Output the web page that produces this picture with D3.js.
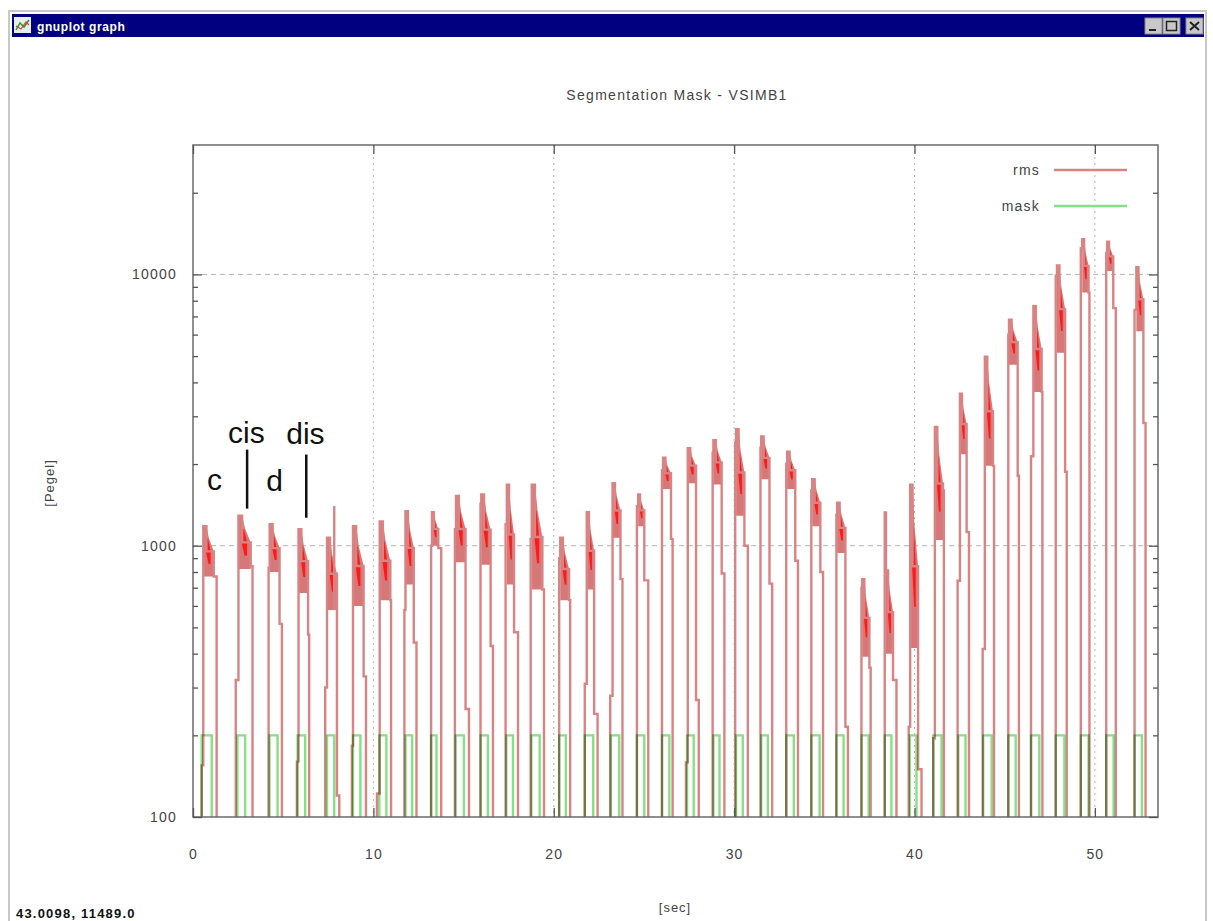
<!DOCTYPE html>
<html>
<head>
<meta charset="utf-8">
<script src="https://cdn.jsdelivr.net/npm/d3@7"></script>
<style>
  html, body { margin: 0; padding: 0; background: #fff; }
  svg { display: block; font-family: "Liberation Sans", Arial, sans-serif; }
</style>
</head>
<body>
<div id="chart"></div>
<script>
// one entry per note, times in [sec], levels in [Pegel]
const onsetT   = [0.48, 2.37, 4.19, 5.76, 7.33, 8.81, 10.20, 11.72, 13.20, 14.52, 15.94, 17.33, 18.72, 20.30, 21.72, 23.13, 24.61, 26.00, 27.33, 28.81, 30.06, 31.46, 32.89, 34.28, 35.67, 37.06, 38.35, 39.68, 41.04, 42.39, 43.78, 45.20, 46.46, 47.83, 49.22, 50.63, 52.20];
const preLevel = [155, 320, 830, 160, 300, 183, 122, 580, 1000, 1150, 1430, 1200, 1060, 900, 310, 280, 1400, 1900, 159, 2200, 2400, 2300, 2000, 1600, 1300, 700, 1325, 215, 195, 743, 416, 6000, 2138, 9900, 12500, 12000, 7400];
const riseT    = [0.57, 2.52, 4.25, 5.85, 7.43, 8.87, 10.35, 11.78, 13.25, 14.58, 15.98, 17.40, 18.78, 20.36, 21.83, 23.26, 24.68, 26.06, 27.43, 28.85, 30.11, 31.50, 32.94, 34.33, 35.71, 37.10, 38.42, 39.76, 41.13, 42.52, 43.90, 45.24, 46.59, 47.90, 49.30, 50.68, 52.30];
const peakLevel= [1180, 1290, 1200, 1150, 1070, 1180, 1230, 1340, 1330, 1525, 1545, 1680, 1680, 1070, 1330, 1700, 1545, 2110, 2290, 2450, 2690, 2530, 2220, 1757, 1440, 753, 810, 1680, 2740, 3630, 4970, 6810, 7640, 10800, 13500, 13200, 10640];
const lowLevel = [770, 820, 800, 670, 580, 600, 630, 720, 1000, 870, 850, 720, 690, 630, 690, 1070, 1180, 1620, 1700, 1680, 1290, 1757, 1620, 1180, 940, 390, 400, 420, 1050, 2175, 1970, 4650, 3690, 5140, 8570, 10290, 6170];
const bandEndT = [1.15, 3.20, 4.80, 6.38, 7.98, 9.46, 10.94, 12.24, 13.60, 15.11, 16.50, 17.80, 19.37, 20.85, 22.24, 23.70, 25.02, 26.50, 27.89, 29.31, 30.57, 31.96, 33.39, 34.78, 36.17, 37.50, 38.81, 40.20, 41.58, 42.89, 44.35, 45.72, 47.05, 48.35, 49.65, 51.02, 52.69];
const tailLevel= [770, 840, 515, 470, 120, 330, 630, 440, 980, 250, 427, 480, 690, 630, 240, 753, 745, 1060, 270, 790, 1000, 725, 880, 800, 215, 355, 320, 150, 1600, 1122, 1970, 1812, 3690, 1873, 8570, 7510, 2835];
const offsetT  = [1.31, 3.30, 4.93, 6.44, 8.11, 9.59, 10.98, 12.39, 13.76, 15.30, 16.63, 18.02, 19.46, 20.91, 22.43, 23.81, 25.24, 26.59, 28.04, 29.46, 30.76, 32.11, 33.54, 34.93, 36.31, 37.57, 39.00, 40.39, 41.63, 43.02, 44.41, 45.79, 47.09, 48.44, 49.70, 51.16, 52.81];

// isolated spikes above the dense part
const spikeT = [7.83];
const spikeV = [1400];

// segmentation mask (on = 200)
const maskOnT  = [0.48, 2.46, 4.24, 5.80, 7.43, 8.87, 10.33, 11.78, 13.20, 14.56, 15.94, 17.37, 18.76, 20.30, 21.72, 23.17, 24.61, 26.00, 27.39, 28.85, 30.11, 31.50, 32.89, 34.28, 35.67, 37.06, 38.35, 39.74, 41.04, 42.43, 43.81, 45.20, 46.46, 47.83, 49.22, 50.63, 52.20];
const maskOffT = [1.04, 2.89, 4.69, 6.22, 7.83, 9.28, 10.72, 12.15, 13.50, 15.02, 16.35, 17.74, 19.22, 20.67, 22.19, 23.63, 25.02, 26.41, 27.76, 29.19, 30.48, 31.87, 33.31, 34.74, 36.07, 37.46, 38.72, 40.11, 41.50, 42.83, 44.28, 45.61, 46.92, 48.31, 49.65, 51.04, 52.61];
const maskLevel = 200;

// axes
const xTicks = [0, 10, 20, 30, 40, 50];
const yMajor = [100, 1000, 10000];
const yMinor = [200, 300, 400, 500, 600, 700, 800, 900, 2000, 3000, 4000, 5000, 6000, 7000, 8000, 9000, 20000];

// note names written on the graph
const annoLabels = ["c", "cis", "d", "dis"];
const annoT = [0.78, 1.94, 4.06, 5.17];
const annoV = [1609, 2399, 1588, 2376];
const markT  = [3.0, 6.28];
const markV0 = [1370, 1268];
const markV1 = [2261, 2168];

const W = 1213, H = 921;
const plot = { left: 193, right: 1158, top: 145, bottom: 817 };
const FLOOR = 60;   // below the visible range, gets clipped

const RED = "#d98484", RED_DARK = "#d77878", RED_HOT = "#ff1a1a", GREEN = "#86e086";
const TXT = "#444";

const svg = d3.select("#chart").append("svg")
  .attr("width", W)
  .attr("height", H);

// ---- window chrome ----
svg.append("rect").attr("x", 9).attr("y", 11).attr("width", 1197).attr("height", H)
  .attr("fill", "#fff").attr("stroke", "#c8c8c8").attr("stroke-width", 2);
svg.append("rect").attr("x", 12).attr("y", 14).attr("width", 1192).attr("height", 23).attr("fill", "#000080");
const icon = svg.append("g").attr("transform", "translate(14,17)");
icon.append("rect").attr("width", 17).attr("height", 16).attr("fill", "#e8ecf0");
icon.append("path").attr("d", "M2,13 L6,6 L10,10 L15,3").attr("fill", "none").attr("stroke", "#2a9a2a").attr("stroke-width", 1.5);
icon.append("path").attr("d", "M2,9 L7,12 L12,5 L15,8").attr("fill", "none").attr("stroke", "#d04040").attr("stroke-width", 1.2);
svg.append("text").attr("x", 37).attr("y", 31)
  .attr("fill", "#fff").attr("font-weight", "bold").attr("font-size", 12)
  .style("letter-spacing", "0.6px").text("gnuplot graph");
[1145, 1163, 1186].forEach((bx, i) => {
  const b = svg.append("g").attr("transform", `translate(${bx},18)`);
  b.append("rect").attr("width", 17).attr("height", 16).attr("fill", "#c8c8c8")
    .attr("stroke", "#888").attr("stroke-width", 1);
  if (i === 0) b.append("rect").attr("x", 4).attr("y", 11).attr("width", 7).attr("height", 2).attr("fill", "#222");
  if (i === 1) b.append("rect").attr("x", 3.5).attr("y", 3.5).attr("width", 10).attr("height", 9)
    .attr("fill", "none").attr("stroke", "#222").attr("stroke-width", 1.5);
  if (i === 2) b.append("path").attr("d", "M4,4 L13,12 M13,4 L4,12").attr("stroke", "#222").attr("stroke-width", 2);
});

// ---- scales ----
const x = d3.scaleLinear().domain([0, 53.5]).range([plot.left, plot.right]);
const y = d3.scaleLog().domain([100, 30000]).range([plot.bottom, plot.top]);

svg.append("defs").append("clipPath").attr("id", "clip")
  .append("rect")
  .attr("x", plot.left).attr("y", plot.top)
  .attr("width", plot.right - plot.left).attr("height", plot.bottom - plot.top);

// title
svg.append("text").attr("x", 677).attr("y", 100).attr("text-anchor", "middle")
  .attr("font-size", 14).attr("fill", TXT).style("letter-spacing", "1.3px")
  .text("Segmentation Mask - VSIMB1");

// grid
const grid = svg.append("g");
grid.selectAll("line.gx").data(xTicks.filter(d => d > 0)).join("line")
  .attr("x1", d => x(d)).attr("x2", d => x(d))
  .attr("y1", plot.top).attr("y2", plot.bottom)
  .attr("stroke", "#b4b4b4").attr("stroke-dasharray", "2,4");
grid.selectAll("line.gy").data(yMajor.filter(d => d > 100)).join("line")
  .attr("x1", plot.left).attr("x2", plot.right)
  .attr("y1", d => y(d)).attr("y2", d => y(d))
  .attr("stroke", "#b4b4b4").attr("stroke-dasharray", "5,4");

const stepLine = d3.line().x(d => x(d[0])).y(d => y(d[1])).curve(d3.curveStepAfter);
const polyLine = d3.line().x(d => x(d[0])).y(d => y(d[1]));
const area = svg.append("g").attr("clip-path", "url(#clip)");

// rms bursts
const notes = d3.range(onsetT.length);
const rms = area.append("g");
notes.forEach(i => {
  const t0 = riseT[i], t1 = bandEndT[i], w = t1 - t0;
  const top = peakLevel[i], low = lowLevel[i];
  const mid = Math.sqrt(top * low);
  // dense part of the rms curve: high at the attack, sagging towards the end
  rms.append("path")
    .attr("d", polyLine([
      [t0, low], [t0, top], [t0 + w * 0.3, top],
      [t0 + w * 0.55, Math.sqrt(top * mid)], [t1, mid], [t1, low]
    ]) + "Z")
    .attr("fill", RED_DARK);
  rms.append("path")
    .attr("d", polyLine([
      [t0 + w * 0.25, mid], [t0 + w * 0.25, Math.sqrt(top * mid)],
      [t0 + w * 0.45, Math.sqrt(top * mid)], [t0 + w * 0.7, mid],
      [t0 + w * 0.7, Math.sqrt(mid * low)], [t0 + w * 0.5, Math.sqrt(mid * low)]
    ]) + "Z")
    .attr("fill", RED_HOT);
  rms.append("path")
    .attr("d", stepLine([
      [onsetT[i], FLOOR],
      [onsetT[i], preLevel[i]],
      [t0, top],
      [t0 + w * 0.3, mid],
      [t1, tailLevel[i]],
      [offsetT[i], FLOOR]
    ]))
    .attr("fill", "none")
    .attr("stroke", RED)
    .attr("stroke-width", 2.4);
});
spikeT.forEach((t, k) => {
  rms.append("line")
    .attr("x1", x(t)).attr("x2", x(t))
    .attr("y1", y(spikeV[k])).attr("y2", y(lowLevel[4]))
    .attr("stroke", RED).attr("stroke-width", 2.4);
});

// mask
const mask = area.append("g").style("mix-blend-mode", "multiply");
notes.forEach(i => {
  mask.append("path")
    .attr("d", stepLine([
      [maskOnT[i], FLOOR],
      [maskOnT[i], maskLevel],
      [maskOffT[i], FLOOR]
    ]))
    .attr("fill", "none")
    .attr("stroke", GREEN)
    .attr("stroke-width", 2.4);
});

// border
svg.append("rect")
  .attr("x", plot.left).attr("y", plot.top)
  .attr("width", plot.right - plot.left).attr("height", plot.bottom - plot.top)
  .attr("fill", "none").attr("stroke", "#6a6a6a").attr("stroke-width", 1.5);

// axes (gnuplot style: ticks inside, mirrored)
function styleAxis(g) {
  g.select(".domain").remove();
  g.selectAll(".tick line").attr("stroke", "#555").attr("stroke-width", 1.3);
  g.selectAll(".tick text").attr("fill", TXT).attr("font-size", 14)
    .style("letter-spacing", "1.2px").attr("font-family", "Liberation Sans, Arial, sans-serif");
}

svg.append("g").attr("transform", `translate(${plot.left},0)`)
  .call(d3.axisLeft(y).tickValues(yMajor).tickFormat(d3.format("d")).tickSize(-9).tickPadding(16))
  .call(styleAxis);
svg.append("g").attr("transform", `translate(${plot.left},0)`)
  .call(d3.axisLeft(y).tickValues(yMinor).tickFormat("").tickSize(-5))
  .call(styleAxis);
svg.append("g").attr("transform", `translate(${plot.right},0)`)
  .call(d3.axisRight(y).tickValues(yMajor).tickFormat("").tickSize(-9))
  .call(styleAxis);
svg.append("g").attr("transform", `translate(${plot.right},0)`)
  .call(d3.axisRight(y).tickValues(yMinor).tickFormat("").tickSize(-5))
  .call(styleAxis);
svg.append("g").attr("transform", `translate(0,${plot.bottom})`)
  .call(d3.axisBottom(x).tickValues(xTicks).tickFormat(d3.format("d")).tickSize(-9).tickPadding(32))
  .call(styleAxis);
svg.append("g").attr("transform", `translate(0,${plot.top})`)
  .call(d3.axisTop(x).tickValues(xTicks).tickFormat("").tickSize(-9))
  .call(styleAxis);

// axis labels
svg.append("text").attr("x", 675).attr("y", 912).attr("text-anchor", "middle")
  .attr("font-size", 13).attr("fill", TXT).style("letter-spacing", "1px").text("[sec]");
svg.append("text").attr("transform", "translate(54,483) rotate(-90)").attr("text-anchor", "middle")
  .attr("font-size", 13).attr("fill", TXT).style("letter-spacing", "1px").text("[Pegel]");

// legend
const legend = [["rms", RED, 170], ["mask", GREEN, 206]];
legend.forEach(([name, col, ly]) => {
  svg.append("text").attr("x", 1040).attr("y", ly + 5).attr("text-anchor", "end")
    .attr("font-size", 14).attr("fill", TXT).style("letter-spacing", "1.2px").text(name);
  svg.append("line").attr("x1", 1054).attr("x2", 1127).attr("y1", ly).attr("y2", ly)
    .attr("stroke", col).attr("stroke-width", 2.4);
});

// note names
svg.selectAll("text.anno").data(annoLabels).join("text")
  .attr("x", (d, i) => x(annoT[i]))
  .attr("y", (d, i) => y(annoV[i]))
  .attr("font-size", 30)
  .attr("fill", "#111")
  .text(d => d);
svg.selectAll("line.mark").data(markT).join("line")
  .attr("x1", d => x(d)).attr("x2", d => x(d))
  .attr("y1", (d, i) => y(markV0[i])).attr("y2", (d, i) => y(markV1[i]))
  .attr("stroke", "#111").attr("stroke-width", 2.5);

// mouse position readout of the gnuplot window
svg.append("text").attr("x", 16).attr("y", 918)
  .attr("font-size", 13).attr("font-weight", "bold").attr("fill", "#111")
  .style("letter-spacing", "1.2px").text("43.0098, 11489.0");
</script>
</body>
</html>
